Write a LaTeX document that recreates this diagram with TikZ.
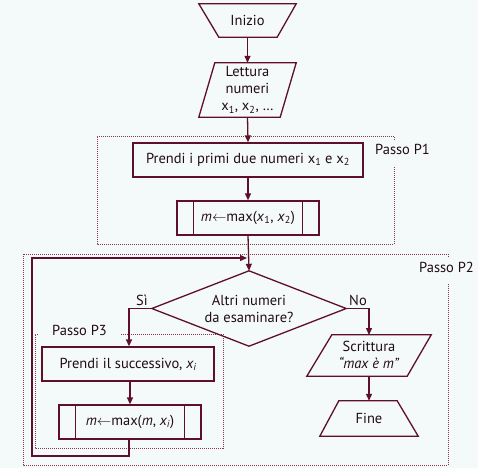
\documentclass[tikz,border=0pt]{standalone}
\usepackage{fontspec}
\setmainfont{PT Sans}
\usetikzlibrary{arrows.meta,calc}
\definecolor{lc}{RGB}{95,15,40}
\definecolor{dc}{RGB}{140,55,70}
\definecolor{bgc}{RGB}{244,250,250}
\definecolor{tc}{RGB}{35,12,22}
\begin{document}
\begin{tikzpicture}[x=1pt,y=-1pt,
  font=\fontsize{14.5}{17}\selectfont,
  box/.style={rectangle, inner sep=0pt, align=center, text=tc},
  lbl/.style={inner sep=0pt, text=tc},
  conn/.style={draw=lc, line width=1.3pt, line join=miter},
  arr/.style={conn, -{Triangle[length=7pt,width=6pt]}},
  dotbox/.style={draw=dc, line width=1pt, densely dotted}]
\fill[bgc] (0,0) rectangle (478,468);
\useasboundingbox (0,0) rectangle (478,468);

% dotted groups
\draw[dotbox] (394,140) -- (394,136) -- (97,136) -- (97,244) -- (394,244) -- (394,167);
\draw[dotbox] (448,257) -- (448,254) -- (23,254) -- (23,465) -- (448,465) -- (448,283);
\draw[dotbox] (38,334) -- (35,334) -- (35,448) -- (223,448) -- (223,334) -- (121,334);
\node[lbl, anchor=west] (lp1) at (375,149) {Passo P1};
\node[lbl, anchor=west] (lp2) at (419,267) {Passo P2};
\node[lbl, anchor=west] (lp3) at (52,330) {Passo P3};

% nodes
\node[box, minimum width=97pt, minimum height=33pt] (ini) at (247.5,20.5) {Inizio};
\draw[conn] (ini.north west) -- (ini.north east) -- ($(ini.south east)+(-19,0)$) -- ($(ini.south west)+(20,0)$) -- cycle;

\node[box, minimum width=97pt, minimum height=54pt] (let) at (247.5,90) {Lettura\\numeri\\x\textsubscript{1}, x\textsubscript{2}, \dots};
\draw[conn] ($(let.north west)+(16,0)$) -- (let.north east) -- ($(let.south east)+(-16,0)$) -- (let.south west) -- cycle;

\node[box, draw=lc, line width=1.3pt, minimum width=230pt, minimum height=34pt] (p1) at (248,160) {Prendi i primi due numeri x\textsubscript{1} e x\textsubscript{2}};

\node[box, draw=lc, line width=1.3pt, minimum width=142pt, minimum height=34pt] (m1) at (248,218) {\textit{m}$\leftarrow$max(\textit{x}\textsubscript{1}, \textit{x}\textsubscript{2})};
\draw[conn] ($(m1.north west)+(17,0)$) -- ($(m1.south west)+(17,0)$);
\draw[conn] ($(m1.north east)+(-17,0)$) -- ($(m1.south east)+(-17,0)$);

\node[box, minimum width=194pt, minimum height=75pt] (dia) at (249,308.5) {Altri numeri\\da esaminare?};
\draw[conn] (dia.north) -- (dia.east) -- (dia.south) -- (dia.west) -- cycle;

\node[box, draw=lc, line width=1.3pt, minimum width=172pt, minimum height=34pt] (succ) at (128,364) {Prendi il successivo, \textit{x\textsubscript{i}}};

\node[box, draw=lc, line width=1.3pt, minimum width=142pt, minimum height=34pt] (m2) at (130,422) {\textit{m}$\leftarrow$max(\textit{m}, \textit{x\textsubscript{i}})};
\draw[conn] ($(m2.north west)+(17,0)$) -- ($(m2.south west)+(17,0)$);
\draw[conn] ($(m2.north east)+(-17,0)$) -- ($(m2.south east)+(-17,0)$);

\node[box, minimum width=124pt, minimum height=41pt] (scr) at (369,354.5) {Scrittura\\\textit{“max è m”}};
\draw[conn] ($(scr.north west)+(25,1)$) -- ($(scr.north east)+(0,1)$) -- ($(scr.south east)+(-24,1)$) -- ($(scr.south west)+(0,1)$) -- cycle;

\node[box, minimum width=98pt, minimum height=35pt] (fine) at (369,418.5) {Fine};
\draw[conn] ($(fine.north west)+(19,0)$) -- ($(fine.north east)+(-21,0)$) -- (fine.south east) -- (fine.south west) -- cycle;

\node[lbl] (si) at (142,300) {Sì};
\node[lbl] (no) at (358,300) {No};

\coordinate (lb) at (129,456);
\coordinate (ll) at (32,456);
\coordinate (lt) at (32,258);
\coordinate (lj) at (247,258);
\coordinate (scrtop) at (369,335);
\coordinate (scrbot) at (369,376);

% connectors
\draw[arr] (ini.south) -- (let.north);
\draw[arr] (let.south) -- (p1.north);
\draw[arr] (p1.south) -- (m1.north);
\draw[arr] (m1.south) -- (dia.north);
\draw[arr] (dia.west) -| (succ.north -| lb);
\draw[arr] (succ.south -| m2.south) -- (m2.north);
\draw[arr] (dia.east) -| (scrtop);
\draw[arr] (scrbot) -- (fine.north);
\draw[arr] (m2.south -| lb) -- (lb) -- (ll) -- (lt) -- (lj);
\end{tikzpicture}
\end{document}
